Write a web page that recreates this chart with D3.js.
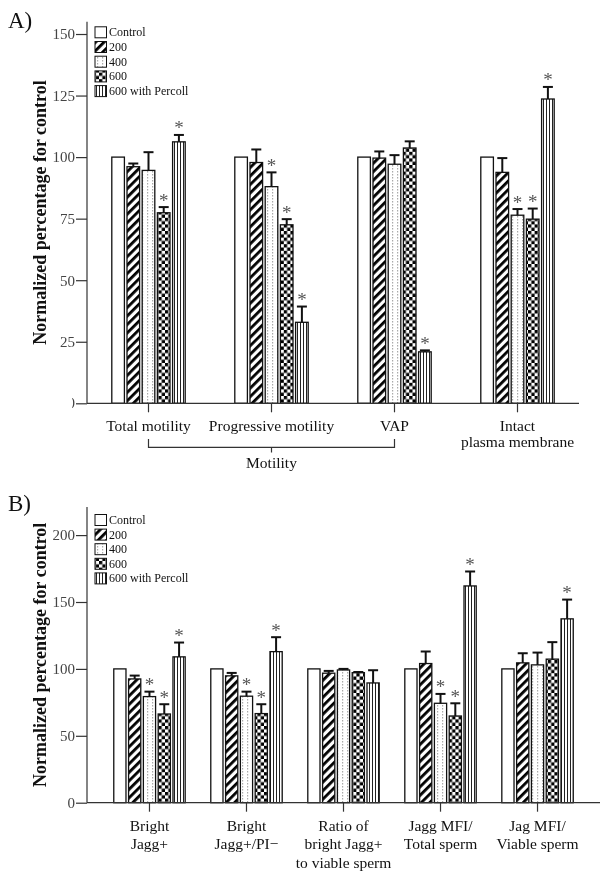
<!DOCTYPE html>
<html><head><meta charset="utf-8">
<script src="https://cdn.jsdelivr.net/npm/d3@7"></script>
<style>
html,body{margin:0;padding:0;background:#fff;}
#wrap{will-change:transform;opacity:0.999;}
svg{display:block;}
</style>
</head><body>
<div id="wrap"></div>
<script>
// ---------- DATA ----------
const seriesNames = ["Control", "200", "400", "600", "600 with Percoll"];

const categoriesA = [["Total motility"], ["Progressive motility"], ["VAP"], ["Intact", "plasma membrane"]];
const ticksA = [0, 25, 50, 75, 100, 125, 150];
const valuesA = [
  [100, 100, 100, 100],        // Control
  [96.1, 97.8, 99.6, 93.8],    // 200
  [94.6, 88.0, 97.1, 76.4],    // 400
  [77.4, 72.5, 103.7, 74.8],   // 600
  [106.2, 32.9, 20.9, 123.6]   // 600 with Percoll
];
const errA = [
  [100, 100, 100, 100],
  [97.4, 103.1, 102.3, 99.6],
  [102.0, 93.8, 100.8, 78.9],
  [79.7, 74.8, 106.4, 79.1],
  [109.0, 39.3, 21.5, 128.5]
];
const sigA = [
  [0, 0, 0, 0],
  [0, 0, 0, 0],
  [0, 1, 0, 1],
  [1, 1, 0, 1],
  [1, 1, 1, 1]
];

const categoriesB = [["Bright", "Jagg+"], ["Bright", "Jagg+/PI\u2212"], ["Ratio of", "bright Jagg+", "to viable sperm"], ["Jagg MFI/", "Total sperm"], ["Jag MFI/", "Viable sperm"]];
const ticksB = [0, 50, 100, 150, 200];
const valuesB = [
  [100, 100, 100, 100, 100],
  [92.5, 94.8, 96.8, 104.0, 104.5],
  [79.3, 79.6, 99.2, 74.3, 103.0],
  [66.3, 66.6, 97.2, 64.8, 107.3],
  [109.0, 112.9, 89.5, 162.0, 137.4]
];
const errB = [
  [100, 100, 100, 100, 100],
  [95.0, 97.0, 98.5, 113.0, 111.7],
  [83.0, 83.0, 100.0, 81.3, 112.2],
  [73.6, 73.6, 97.7, 74.3, 120.0],
  [119.7, 123.7, 99.0, 172.8, 151.8]
];
const sigB = [
  [0, 0, 0, 0, 0],
  [0, 0, 0, 0, 0],
  [1, 1, 0, 1, 0],
  [1, 1, 0, 1, 0],
  [1, 1, 0, 1, 1]
];

// ---------- DRAW ----------
const W = 609, H = 875;
const FONT = "'Liberation Serif', 'Times New Roman', serif";
const svg = d3.select("#wrap").append("svg").attr("width", W).attr("height", H)
  .style("font-family", FONT);
svg.append("rect").attr("width", W).attr("height", H).attr("fill", "#fff");

const defs = svg.append("defs");
// 200: diagonal stripes
const pd = defs.append("pattern").attr("id", "pat1").attr("patternUnits", "userSpaceOnUse")
  .attr("width", 6).attr("height", 6).attr("patternTransform", "rotate(45)");
pd.append("rect").attr("width", 6).attr("height", 6).attr("fill", "#fff");
pd.append("rect").attr("x", 0).attr("width", 2.8).attr("height", 6).attr("fill", "#000");
// 400: gray dotted
const pdot = defs.append("pattern").attr("id", "pat2").attr("patternUnits", "userSpaceOnUse")
  .attr("width", 5).attr("height", 3);
pdot.append("rect").attr("width", 5).attr("height", 3).attr("fill", "#fff");
pdot.append("rect").attr("x", 2).attr("y", 0).attr("width", 1.2).attr("height", 1.5).attr("fill", "#aaa");
// 600: checker
const pc = defs.append("pattern").attr("id", "pat3").attr("patternUnits", "userSpaceOnUse")
  .attr("width", 6.6).attr("height", 6.6);
pc.append("rect").attr("width", 6.6).attr("height", 6.6).attr("fill", "#fff");
pc.append("rect").attr("width", 3.3).attr("height", 3.3).attr("fill", "#000");
pc.append("rect").attr("x", 3.3).attr("y", 3.3).attr("width", 3.3).attr("height", 3.3).attr("fill", "#000");
// Percoll: vertical lines
const pv = defs.append("pattern").attr("id", "pat4").attr("patternUnits", "userSpaceOnUse")
  .attr("width", 3).attr("height", 4);
pv.append("rect").attr("width", 3).attr("height", 4).attr("fill", "#fff");
pv.append("rect").attr("x", 0).attr("width", 1).attr("height", 4).attr("fill", "#222");

const fills = ["#fff", "url(#pat1)", "url(#pat2)", "url(#pat3)", "url(#pat4)"];

function panel(cfg) {
  const g = svg.append("g");
  const n = cfg.cats.length;
  const x = d3.scaleBand().domain(d3.range(n)).range([cfg.x0, cfg.x1])
    .paddingInner(0).paddingOuter(cfg.padOuter);
  const y = d3.scaleLinear().domain([0, cfg.yMax]).range([cfg.yBase, cfg.yTop]);
  const cx = i => x(i) + x.bandwidth() / 2;

  // y axis
  const ya = g.append("g").attr("transform", `translate(${cfg.x0},0)`)
    .call(d3.axisLeft(y).tickValues(cfg.ticks).tickSize(11).tickPadding(1).tickFormat(d3.format("d")));
  ya.select(".domain").attr("stroke", "#333").attr("stroke-width", 1.2).attr("d", `M0,${cfg.yBase}V${cfg.yTop}`);
  ya.selectAll(".tick line").attr("stroke", "#333").attr("stroke-width", 1.2);
  ya.selectAll(".tick text").attr("font-size", 15).attr("fill", "#444").attr("font-family", FONT);
  if (cfg.clipZero) {
    ya.selectAll(".tick").filter(d => d === 0).select("text").remove();
    const cp = defs.append("clipPath").attr("id", "clip" + cfg.id);
    cp.append("rect").attr("x", cfg.x0 - 15).attr("y", cfg.yBase - 15).attr("width", 15).attr("height", 30);
    g.append("text").attr("clip-path", `url(#clip${cfg.id})`)
      .attr("x", cfg.x0 - 12).attr("y", y(0)).attr("text-anchor", "end").attr("dy", "0.32em")
      .attr("font-size", 15).attr("fill", "#444").text("0");
  }

  // bars
  const pitch = cfg.pitch, bw = cfg.bw;
  seriesNames.forEach((s, si) => {
    cfg.vals[si].forEach((v, ci) => {
      const bx = cx(ci) + (si - 2) * pitch;
      g.append("rect").attr("x", bx - bw / 2).attr("y", y(v)).attr("width", bw)
        .attr("height", y(0) - y(v)).attr("fill", fills[si]).attr("stroke", "#111").attr("stroke-width", 1.3);
      const e = cfg.errs[si][ci];
      if (e > v + 0.01) {
        g.append("line").attr("x1", bx).attr("x2", bx).attr("y1", y(v)).attr("y2", y(e))
          .attr("stroke", "#111").attr("stroke-width", 2);
        g.append("line").attr("x1", bx - 5).attr("x2", bx + 5).attr("y1", y(e)).attr("y2", y(e))
          .attr("stroke", "#111").attr("stroke-width", 2);
      }
      if (cfg.sig[si][ci]) {
        g.append("text").attr("x", bx).attr("y", y(Math.max(e, v)) - 0.5).attr("text-anchor", "middle")
          .attr("font-size", 19).attr("fill", "#555").text("*");
      }
    });
  });

  // x axis
  g.append("line").attr("x1", cfg.x0).attr("x2", cfg.x1).attr("y1", cfg.yBase).attr("y2", cfg.yBase)
    .attr("stroke", "#333").attr("stroke-width", 1.2);
  cfg.cats.forEach((lines, i) => {
    g.append("line").attr("x1", cx(i)).attr("x2", cx(i)).attr("y1", cfg.yBase).attr("y2", cfg.yBase + 9)
      .attr("stroke", "#333").attr("stroke-width", 1.2);
    lines.forEach((t, li) => {
      g.append("text").attr("x", cx(i)).attr("y", cfg.labY + li * cfg.labLH).attr("text-anchor", "middle")
        .attr("dominant-baseline", "central").attr("font-size", 15.5).attr("fill", "#111").text(t);
    });
  });

  // y label
  g.append("text").attr("transform", `translate(40,${(cfg.yBase + cfg.yTop) / 2}) rotate(-90)`)
    .attr("text-anchor", "middle").attr("dominant-baseline", "central")
    .attr("font-size", 18).attr("font-weight", "bold").attr("fill", "#111")
    .text("Normalized percentage for control");

  // panel letter
  g.append("text").attr("x", 8).attr("y", cfg.letterY).attr("dominant-baseline", "central")
    .attr("font-size", 23).attr("fill", "#111").text(cfg.letter);

  // legend
  seriesNames.forEach((s, si) => {
    const ly = cfg.legY + si * cfg.legStep;
    g.append("rect").attr("x", 95).attr("y", ly - 5.5).attr("width", 11.5).attr("height", 11)
      .attr("fill", fills[si]).attr("stroke", "#111").attr("stroke-width", 1);
    g.append("text").attr("x", 109).attr("y", ly).attr("dominant-baseline", "central")
      .attr("font-size", 12).attr("fill", "#111").text(s);
  });

  return { g, cx };
}

const A = panel({
  id: "A", letter: "A)", letterY: 20,
  cats: categoriesA, vals: valuesA, errs: errA, sig: sigA, ticks: ticksA,
  x0: 87, x1: 579, padOuter: 0, yMax: 155, yBase: 403.3, yTop: 21.7,
  pitch: 15.2, bw: 12.6, labY: 425.5, labLH: 16, legY: 32.3, legStep: 14.7, clipZero: true
});
// Motility bracket
(function () {
  const x1 = A.cx(0), x2 = A.cx(2), xm = A.cx(1);
  A.g.append("path").attr("d", `M${x1},439V447.3H${x2}V439`).attr("fill", "none")
    .attr("stroke", "#333").attr("stroke-width", 1.2);
  A.g.append("line").attr("x1", xm).attr("x2", xm).attr("y1", 447.3).attr("y2", 452.5)
    .attr("stroke", "#333").attr("stroke-width", 1.2);
  A.g.append("text").attr("x", xm).attr("y", 462).attr("text-anchor", "middle")
    .attr("dominant-baseline", "central").attr("font-size", 15.5).attr("fill", "#111").text("Motility");
})();

panel({
  id: "B", letter: "B)", letterY: 503,
  cats: categoriesB, vals: valuesB, errs: errB, sig: sigB, ticks: ticksB,
  x0: 87, x1: 600, padOuter: 0.144, yMax: 221, yBase: 802.7, yTop: 507,
  pitch: 14.8, bw: 12.2, labY: 825, labLH: 18.5, legY: 520, legStep: 14.6, clipZero: false
});
</script>
</body></html>
